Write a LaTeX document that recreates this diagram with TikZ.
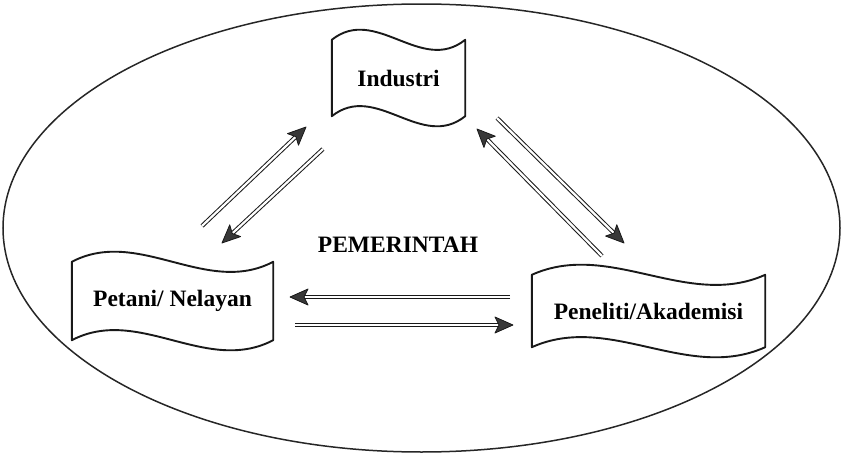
\documentclass[tikz,border=0pt]{standalone}
\usepackage{fontspec}
\setmainfont{Liberation Serif}
\usetikzlibrary{calc}
\begin{document}
\begin{tikzpicture}[x=1pt,y=-1pt,
  lbl/.style={font=\fontsize{23.5}{26}\selectfont\bfseries, inner sep=0pt},
  box/.style={lbl, draw=none},
  wave/.style={line width=1.9pt, line join=round, draw=black!90},
  dbl/.style={draw=black!90, line width=1pt, double=white, double distance=2.2pt, shorten >=13pt},
  headfill/.style={fill=black!78, draw=black!90, line width=0.8pt, line join=round},
]
\useasboundingbox (0,0) rectangle (844,455);
% outer ellipse
\draw[line width=1.5pt, draw=black!85] (421.5,228) ellipse [x radius=418.5, y radius=224];

% nodes (invisible frames that carry the text)
\node[box, minimum width=133pt, minimum height=76pt] (ind) at (398.5,78) {Industri};
\node[box, minimum width=201pt, minimum height=78pt] (pet) at (172.5,301) {Petani/ Nelayan};
\node[box, minimum width=233pt, minimum height=72pt] (pen) at (648.5,311) {Peneliti/Akademisi};
\node[lbl] (pem) at (398,245) {PEMERINTAH};

% wavy tape frames
\draw[wave] (ind.north west) .. controls +(44,-35) and +(-44,35) .. (ind.north east)
  -- (ind.south east) .. controls +(-44,35) and +(44,-35) .. (ind.south west) -- cycle;
\draw[wave] (pet.north west) .. controls +(67,-35) and +(-67,35) .. (pet.north east)
  -- (pet.south east) .. controls +(-67,35) and +(67,-35) .. (pet.south west) -- cycle;
\draw[wave] (pen.north west) .. controls +(78,-35) and +(-78,35) .. (pen.north east)
  -- (pen.south east) .. controls +(-78,35) and +(78,-35) .. (pen.south west) -- cycle;

% connector end points
\coordinate (a1s) at (202,226); \coordinate (a1e) at (306,127);
\coordinate (a2s) at (323,149); \coordinate (a2e) at (222,243);
\coordinate (a3s) at (602,256); \coordinate (a3e) at (477,129);
\coordinate (a4s) at (497,118); \coordinate (a4e) at (624,243);
\coordinate (a5s) at (510,297); \coordinate (a5e) at (290,297);
\coordinate (a6s) at (295,325); \coordinate (a6e) at (513,325);

\foreach \a in {a1,a2,a3,a4,a5,a6}{
  \draw[dbl] (\a s) -- (\a e);
  \coordinate (\a b) at ($(\a e)!18pt!(\a s)$);
  \coordinate (\a n) at ($(\a e)!14pt!(\a s)$);
  \fill[headfill] (\a e) -- ($(\a b)!8pt!90:(\a e)$) -- (\a n)
     -- ($(\a b)!8pt!-90:(\a e)$) -- cycle;
}
\end{tikzpicture}
\end{document}
